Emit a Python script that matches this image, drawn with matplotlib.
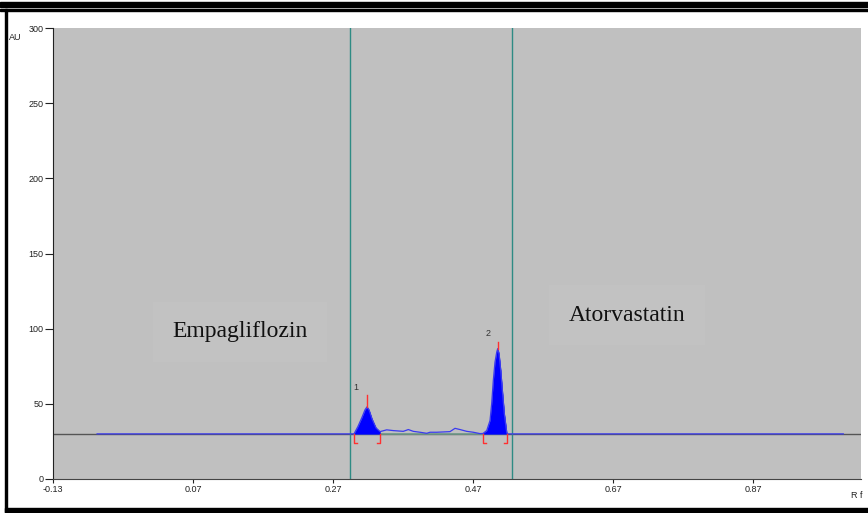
import matplotlib
matplotlib.use("Agg")
import matplotlib.pyplot as plt
from matplotlib.patches import Rectangle

# densitogram trace (Rf vs AU)
rf = [-0.067, 0.300,
      0.3057, 0.3114, 0.3157, 0.3186, 0.3214, 0.3257, 0.3314, 0.3371,
      0.3467, 0.3561, 0.3704, 0.3776, 0.3847, 0.3943, 0.4039, 0.4086, 0.4181,
      0.4371, 0.4443, 0.4514, 0.4610, 0.4704, 0.4800, 0.4843,
      0.4896, 0.4943, 0.4967, 0.4990, 0.5014, 0.5039, 0.5053, 0.5071, 0.5096,
      0.5119, 0.5147, 0.5181, 0.5190, 0.999]
au = [30, 30,
      35, 41, 46, 48, 46, 40, 34, 31.5,
      32.7, 32.2, 31.7, 32.9, 31.7, 31.1, 30.4, 31.1, 31.1,
      31.5, 33.7, 32.9, 31.7, 31.1, 30.2, 30.3,
      32.2, 38.9, 50.2, 65.5, 77.7, 84.4, 86.7, 83.5, 72.2,
      58.9, 43.5, 31.1, 30, 30]

baseline = 30
peak_start = [0.300, 0.4836]
peak_end = [0.3371, 0.5186]
peak_apex = [0.3186, 0.5053]
apex_height = [48, 86.7]
apex_top = [56, 91]
peak_names = ["1", "2"]
label_pos = [(0.303, 61), (0.491, 97)]
window = [0.294, 0.526]
yticks = [0, 50, 100, 150, 200, 250, 300]
xticks = [-0.13, 0.07, 0.27, 0.47, 0.67, 0.87]

fig = plt.figure(figsize=(8.68, 5.13), dpi=100)
W, H = 868, 513

# page frame lines
fig.patches.append(Rectangle((0, 1 - 6.5 / H), 1, 4.5 / H, transform=fig.transFigure,
                             color="black", zorder=0))
fig.patches.append(Rectangle((0, 1 - 10.5 / H), 1, 2 / H, transform=fig.transFigure,
                             color="black", zorder=0))
fig.patches.append(Rectangle((5 / W, 0), 2 / W, 1 - 9 / H, transform=fig.transFigure,
                             color="black", zorder=0))
fig.patches.append(Rectangle((5 / W, 1 / H), 1 - 5 / W, 4 / H, transform=fig.transFigure,
                             color="black", zorder=0))

ax = fig.add_axes([53 / W, 34 / H, 808 / W, 451 / H])
ax.set_facecolor("#c0c0c0")
ax.set_xlim(-0.13, -0.13 + 808 / 700)
ax.set_ylim(0, 300)

for s in ["top", "right"]:
    ax.spines[s].set_visible(False)
ax.spines["left"].set_color("#222222")
ax.spines["bottom"].set_color("#444444")

ax.set_yticks(yticks)
ax.set_yticklabels([str(v) for v in yticks])
ax.set_xticks(xticks)
ax.set_xticklabels([f"{v:.2f}" for v in xticks])
ax.tick_params(axis="y", direction="out", length=6, width=0.8, pad=1,
               labelsize=6.5, colors="#222222")
ax.tick_params(axis="x", direction="out", length=3, width=0.8, pad=1,
               labelsize=6.5, colors="#222222")
for t in ax.get_xticklabels() + ax.get_yticklabels():
    t.set_family("Liberation Sans")

# baseline
ax.axhline(baseline, color="#555555", lw=1.0, zorder=1)
ax.plot([peak_start[0], peak_end[1]], [baseline, baseline], color="#6f9a8a", lw=1.2, zorder=2)

# filled peaks
for s, e in zip(peak_start, peak_end):
    xs = [x for x in rf if s <= x <= e]
    ys = [y for x, y in zip(rf, au) if s <= x <= e]
    ax.fill_between(xs, baseline, ys, color="#0000ff", lw=0.3, edgecolor="#0000ff", zorder=3)

ax.plot(rf, au, color="#3a3af0", lw=0.9, zorder=4)

# peak markers
for s, e, a, h, top, name, (lx, ly) in zip(peak_start, peak_end, peak_apex, apex_height,
                                            apex_top, peak_names, label_pos):
    ax.plot([a, a], [h, top], color="#ff3030", lw=1.0, zorder=5)
    ax.plot([s, s, s + 0.0043], [baseline, 24, 24], color="#ff3030", lw=1.0, zorder=5)
    ax.plot([e, e, e - 0.0043], [baseline, 24, 24], color="#ff3030", lw=1.0, zorder=5)
    ax.text(lx, ly, name, fontsize=6.5, color="#333333", ha="center", va="center",
            family="Liberation Sans", zorder=6)

for x in window:
    ax.axvline(x, color="#2e8b84", lw=1.0, zorder=2)

ax.text(0.137, 98, "Empagliflozin", fontsize=17, family="Liberation Serif",
        ha="center", va="center", color="#111111", zorder=6,
        bbox=dict(facecolor="#c2c2c2", edgecolor="none", pad=14))
ax.text(0.69, 109, "Atorvastatin", fontsize=17, family="Liberation Serif",
        ha="center", va="center", color="#111111", zorder=6,
        bbox=dict(facecolor="#c2c2c2", edgecolor="none", pad=14))

fig.text(9 / W, 1 - 38 / H, "AU", fontsize=6.5, family="Liberation Sans",
         ha="left", va="center", color="#222222")
fig.text(857 / W, 1 - 496 / H, "R f", fontsize=6.5, family="Liberation Sans",
         ha="center", va="center", color="#222222")

fig.savefig("out.png", dpi=100)
